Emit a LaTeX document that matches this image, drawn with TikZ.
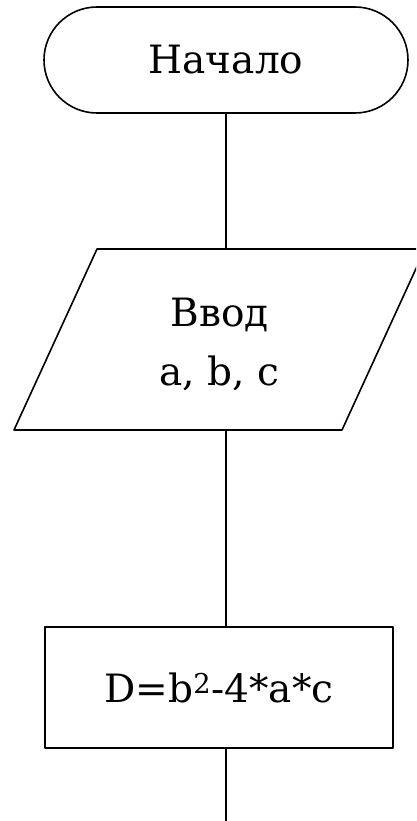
\documentclass[tikz,border=0pt]{standalone}
\usepackage{fontspec}
\setmainfont{DejaVu Serif}

\begin{document}
\begin{tikzpicture}[x=1pt,y=-1pt,line cap=round,line join=round]
	\tikzset{
		blk/.style={line width=1.6pt,inner sep=0pt,align=center,font=\fontsize{39}{59}\selectfont},
		term/.style={blk,draw,rectangle,rounded corners=53pt,minimum width=364pt,minimum height=106pt},
		io/.style={blk},
		proc/.style={blk,draw,rectangle,minimum width=348pt,minimum height=121pt},
		flow/.style={line width=1.6pt}
	}
	\useasboundingbox (0,0) rectangle (416,821);
	\clip (0,0) rectangle (416,821);
	\node[term] (start) at (226,60) {Начало};
	\node[io] (inp) at (219.5,344) {Ввод\\a, b, c};
	\node[proc] (calc) at (219,687.5) {D=b\textsuperscript{2}-4*a*c};
	%% parallelogram of the input block
	\coordinate (inpbl) at (14,430);
	\coordinate (inpbr) at (342,430);
	\coordinate (inptr) at (425,249);
	\coordinate (inptl) at (97,249);
	\draw[flow] (inpbl) -- (inpbr) -- (inptr) -- (inptl) -- cycle;
	\coordinate (end) at (226,821);
	%% connectors
	\draw[flow] (start.south) -- (start.south |- inptl);
	\draw[flow] (start.south |- inpbl) -- (calc.north -| start.south);
	\draw[flow] (calc.south -| start.south) -- (end);
\end{tikzpicture}
\end{document}
